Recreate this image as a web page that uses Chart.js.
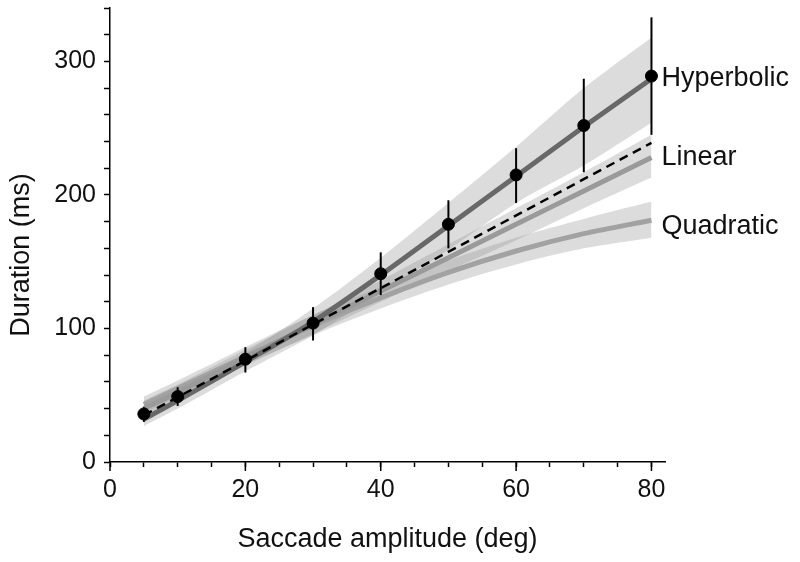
<!DOCTYPE html>
<html>
<head>
<meta charset="utf-8">
<script src="https://cdn.jsdelivr.net/npm/chart.js@4.4.1/dist/chart.umd.min.js"></script>
<style>
  html, body { margin: 0; padding: 0; background: #fff; }
  #wrap { width: 800px; height: 562px; }
</style>
</head>
<body>
<div id="wrap"><canvas id="duration-chart" width="800" height="562"></canvas></div>
<script>
// saccade amplitude (deg) and measured durations (ms)
var amplitude = [5, 10, 20, 30, 40, 50, 60, 70, 80];
var meanDuration = [36, 49, 77, 104, 141, 178, 215, 252, 289];
var errLow = [30, 42, 67, 91, 125, 160, 194, 217, 245];
var errHigh = [41, 56, 86, 116, 157, 196, 235, 287, 333];

// model fits with their bands
var hyperbolic = [32, 46, 75, 105, 140, 177, 214, 251, 287];
var hypLow = [27, 40, 68, 95, 127, 159, 194, 222, 254];
var hypHigh = [37, 52, 82, 115, 153, 194, 236, 280, 318];
var linear = [40, 52, 78, 103, 128, 153, 178, 203, 228];
var linLow = [35, 47, 72, 96, 120, 143, 166, 190, 213];
var linHigh = [46, 58, 84, 110, 136, 163, 190, 217, 245];
var quadratic = [43, 55, 79, 102, 123, 142, 158, 171, 181];
var quadLow = [37, 49, 73, 95, 115, 133, 148, 160, 168];
var quadHigh = [49, 61, 86, 110, 131, 151, 168, 182, 195];

// dashed straight line
var fitX = [5, 80];
var fitY = [35, 239];

var modelNames = ['Hyperbolic', 'Linear', 'Quadratic'];
var labelY = [287, 228, 176];

var xTicksMajor = [0, 20, 40, 60, 80];

function pts(xs, ys) {
    return xs.map(function (x, i) { return { x: x, y: ys[i] }; });
}

var bandColor = 'rgba(140,140,140,0.3)';
var font = "'Liberation Sans', Arial, sans-serif";

function band(data, target, order) {
    return {
        data: pts(amplitude, data),
        borderWidth: 0,
        pointRadius: 0,
        backgroundColor: bandColor,
        fill: target === null ? false : { target: target },
        tension: 0.3,
        order: order
    };
}

function fitLine(data, color, order) {
    return {
        data: pts(amplitude, data),
        borderColor: color,
        borderWidth: 5,
        pointRadius: 0,
        fill: false,
        tension: 0.3,
        order: order
    };
}

var extras = {
    id: 'extras',
    beforeDatasetDraw: function (chart, args) {
        if (args.index !== 10) return;
        var ctx = chart.ctx, xs = chart.scales.x, ys = chart.scales.y;
        ctx.save();
        ctx.strokeStyle = '#000';
        ctx.lineWidth = 2;
        for (var i = 0; i < amplitude.length; i++) {
            var px = xs.getPixelForValue(amplitude[i]);
            ctx.beginPath();
            ctx.moveTo(px, ys.getPixelForValue(errLow[i]));
            ctx.lineTo(px, ys.getPixelForValue(errHigh[i]));
            ctx.stroke();
        }
        ctx.restore();
    },
    afterDraw: function (chart) {
        var ctx = chart.ctx, xs = chart.scales.x, ys = chart.scales.y;
        ctx.save();
        // longer major ticks on x
        ctx.strokeStyle = '#000';
        ctx.lineWidth = 1.5;
        xTicksMajor.forEach(function (v) {
            var px = xs.getPixelForValue(v);
            ctx.beginPath();
            ctx.moveTo(px, ys.bottom);
            ctx.lineTo(px, ys.bottom + 9);
            ctx.stroke();
        });
        ctx.fillStyle = '#111';
        ctx.font = '27px ' + font;
        ctx.textBaseline = 'middle';
        ctx.textAlign = 'left';
        var lx = xs.getPixelForValue(80) + 10;
        modelNames.forEach(function (name, i) {
            ctx.fillText(name, lx, ys.getPixelForValue(labelY[i]));
        });
        // y axis title
        ctx.translate(22, ys.getPixelForValue(155));
        ctx.rotate(-Math.PI / 2);
        ctx.textAlign = 'center';
        ctx.fillText('Duration (ms)', 0, 0);
        ctx.restore();
    }
};

var config = {
    type: 'line',
    data: {
        datasets: [
            band(hypLow, null, 20),
            band(hypHigh, 0, 20),
            band(linLow, null, 19),
            band(linHigh, 2, 19),
            band(quadLow, null, 18),
            band(quadHigh, 4, 18),
            fitLine(hyperbolic, '#686868', 5),
            fitLine(linear, '#9a9a9a', 6),
            fitLine(quadratic, '#a2a2a2', 7),
            {
                data: pts(fitX, fitY),
                borderColor: '#000',
                borderWidth: 2.5,
                borderDash: [9, 6],
                pointRadius: 0,
                fill: false,
                order: 2
            },
            {
                data: pts(amplitude, meanDuration),
                showLine: false,
                pointRadius: 6,
                pointBackgroundColor: '#000',
                pointBorderColor: '#000',
                order: 0
            }
        ]
    },
    options: {
        responsive: false,
        animation: false,
        layout: { padding: { top: 8, right: 135, bottom: 0, left: 0 } },
        plugins: { legend: { display: false }, tooltip: { enabled: false } },
        scales: {
            x: {
                type: 'linear',
                min: 0,
                max: 82,
                afterFit: function (s) { s.height = 100; s.paddingLeft = 0; s.paddingRight = 0; },
                grid: { drawOnChartArea: false, tickLength: 5, tickColor: '#000', tickWidth: 1.5 },
                border: { display: true, color: '#000', width: 1.5 },
                ticks: {
                    stepSize: 5,
                    includeBounds: false,
                    autoSkip: false,
                    maxRotation: 0,
                    padding: 8,
                    color: '#111',
                    font: { size: 25, family: font },
                    callback: function (v) { return v % 20 === 0 ? v : ''; }
                },
                title: {
                    display: true,
                    text: 'Saccade amplitude (deg)',
                    color: '#111',
                    font: { size: 27, family: font },
                    padding: { top: 0, bottom: 6 }
                }
            },
            y: {
                min: 0,
                max: 340,
                afterFit: function (s) { s.width = 110; s.paddingTop = 0; s.paddingBottom = 0; },
                grid: { drawOnChartArea: false, tickLength: 6, tickColor: '#000', tickWidth: 1.5 },
                border: { display: true, color: '#000', width: 1.5 },
                ticks: {
                    stepSize: 20,
                    autoSkip: false,
                    padding: 8,
                    color: '#111',
                    font: { size: 25, family: font },
                    callback: function (v) { return v % 100 === 0 ? v : ''; }
                }
            }
        }
    },
    plugins: [extras]
};

var ctx = document.getElementById('duration-chart').getContext('2d');
window.durationChart = new Chart(ctx, config);
</script>
</body>
</html>
